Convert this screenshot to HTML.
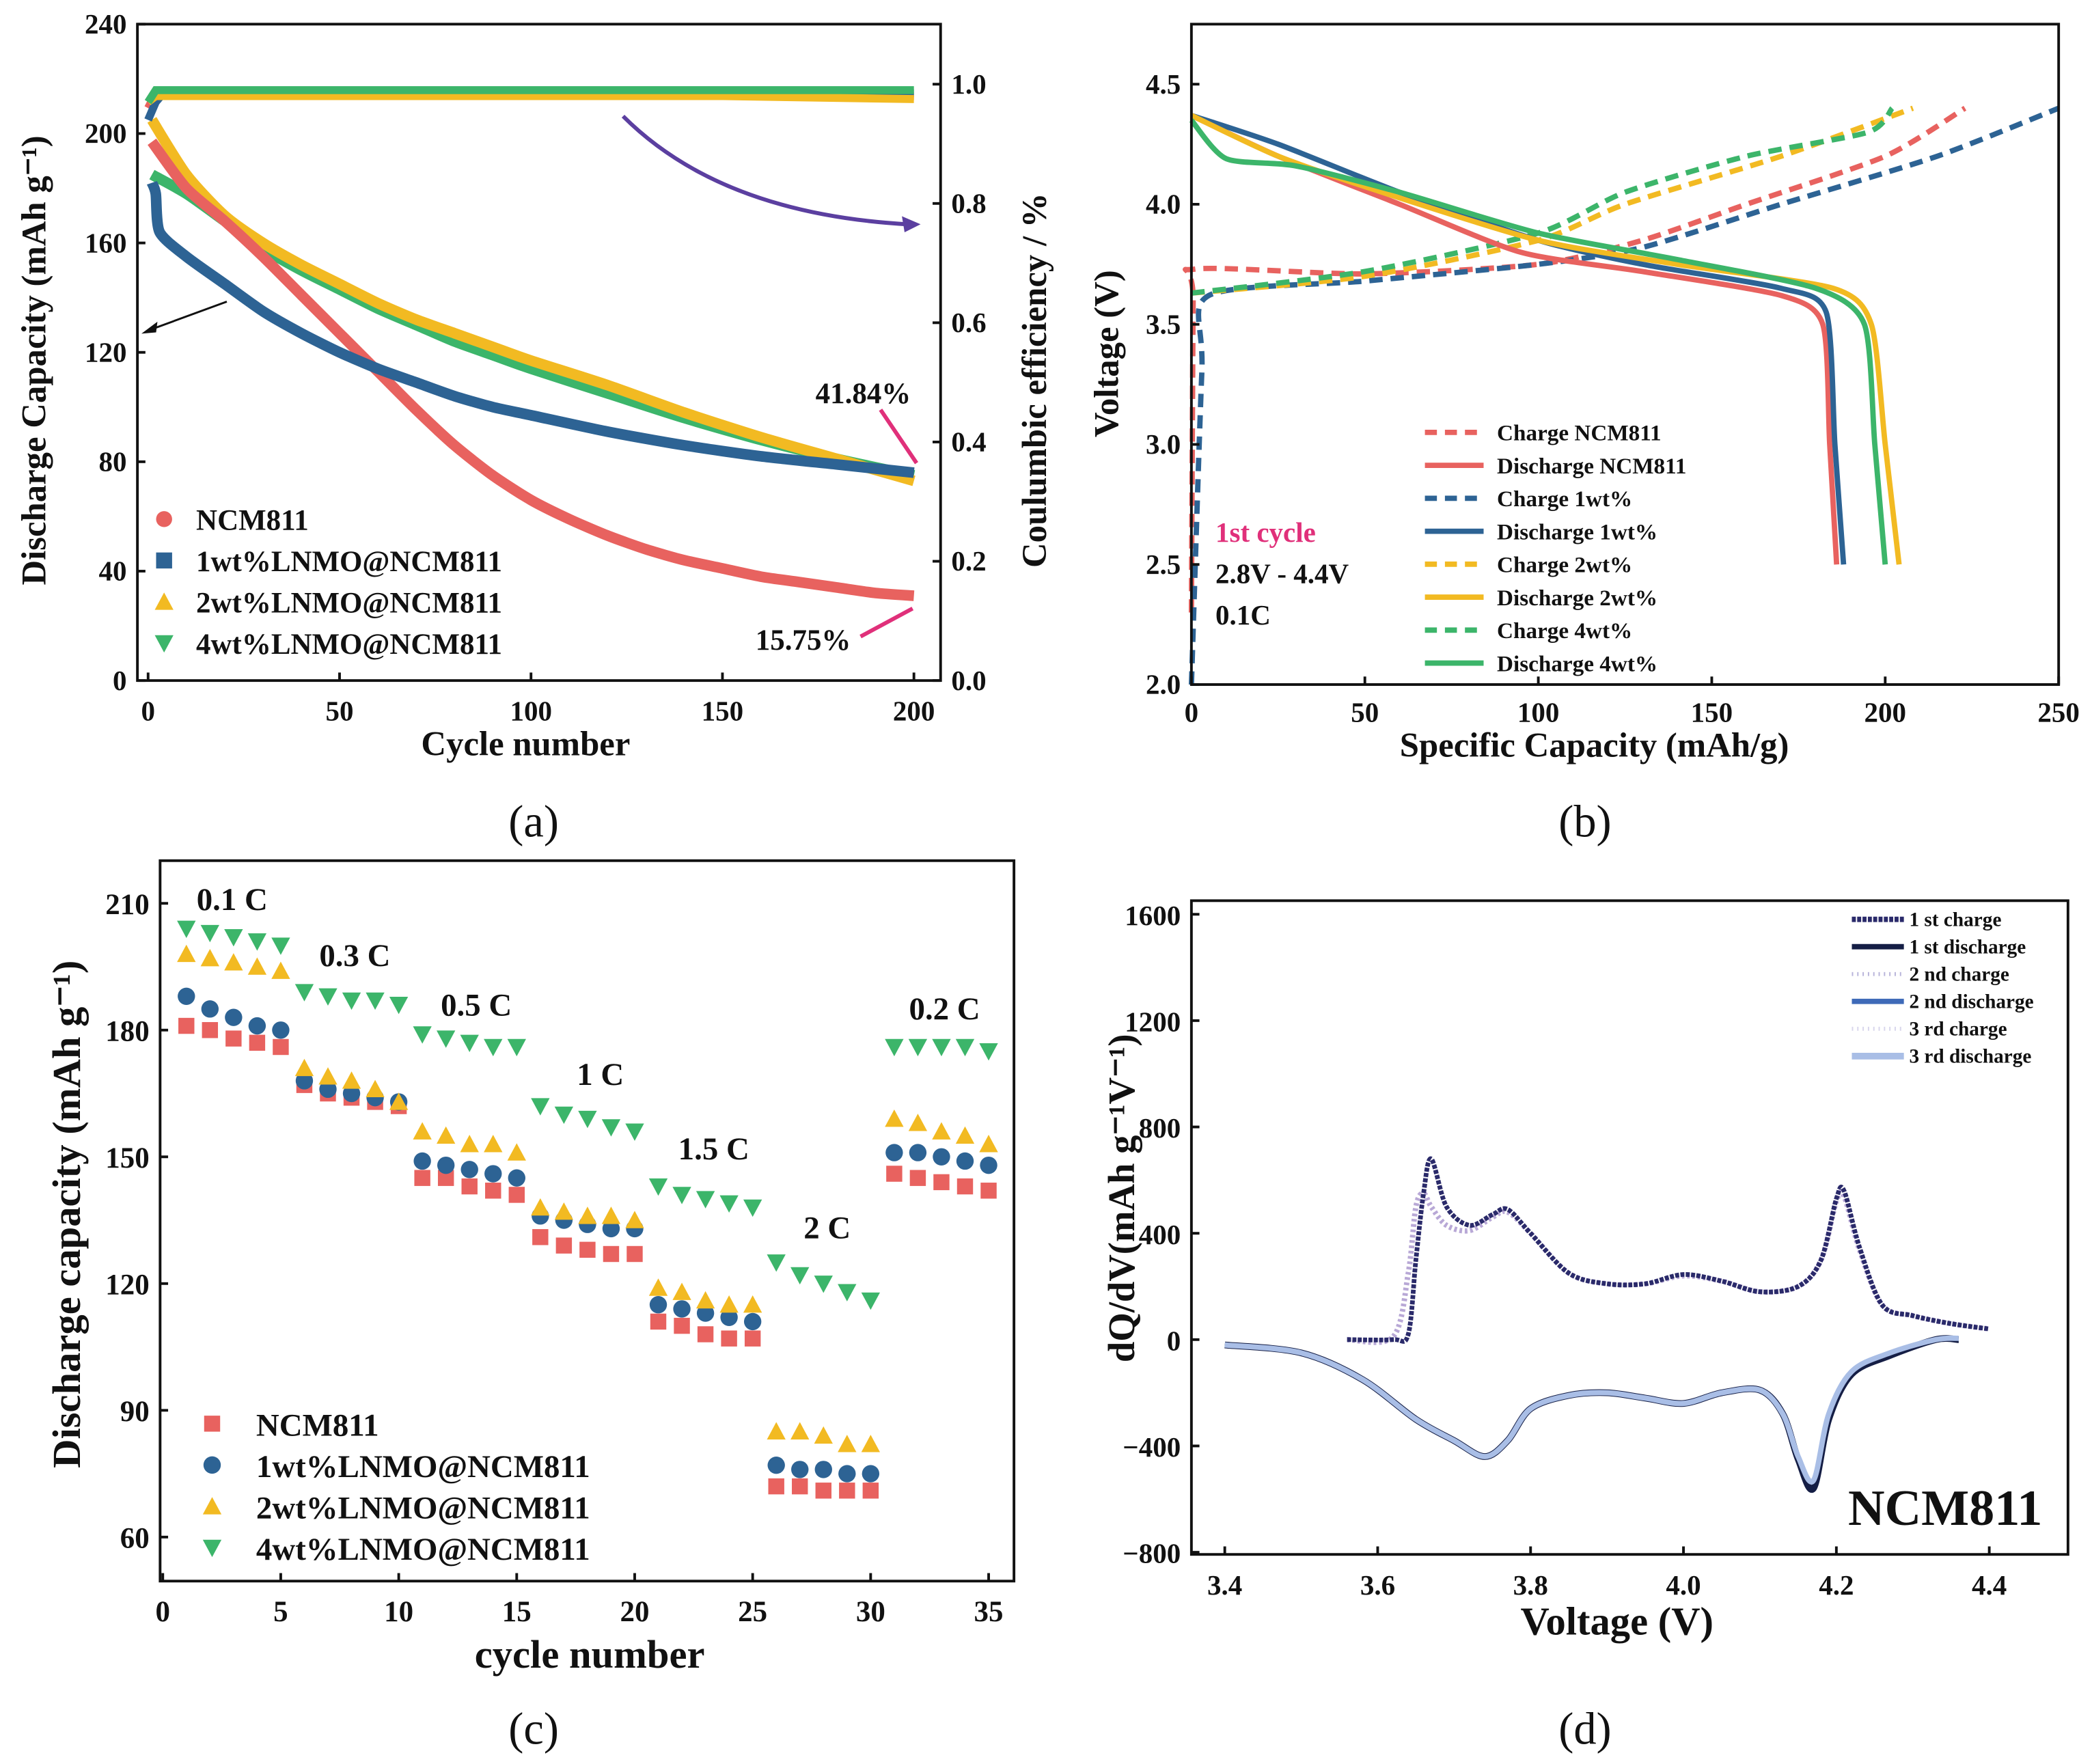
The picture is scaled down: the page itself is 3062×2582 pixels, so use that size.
<!DOCTYPE html>
<html><head><meta charset="utf-8"><style>
html,body{margin:0;padding:0;background:#fff;}
svg{display:block;font-family:"Liberation Serif",serif;font-weight:bold;}
</style></head><body>
<svg id="fig" width="3062" height="2582" viewBox="0 0 1568 1322" xmlns="http://www.w3.org/2000/svg">
</svg>
<script>
// ---------- Panel (a) data ----------
const aCycNCM = [1,10,20,30,40,50,60,70,80,90,100,110,120,130,140,150,160,170,180,190,200];
const aCapNCM = [197,180,168,155,141,127,113,99,86,75,66,59,53,48,44,41,38,36,34,32,31];
const aCyc1 = [1,2,3,10,20,30,40,50,60,70,80,90,100,120,140,160,180,200];
const aCap1 = [182,178,164,155,145,135,127,120,114,109,104,100,97,91,86,82,79,76];
const aCyc2 = [1,10,20,30,40,50,60,70,80,90,100,120,140,160,180,200];
const aCap2 = [205,185,170,160,152,145,138,132,127,122,117,108,98,89,81,73];
const aCyc4 = [1,10,20,30,40,50,60,70,80,90,100,120,140,160,180,200];
const aCap4 = [185,178,168,158,150,143,136,130,124,119,114,105,96,88,81,75];
const aCEcyc = [0,2,4,50,100,150,200];
const aCE1 = [0.94,0.97,0.985,0.985,0.985,0.985,0.985];
const aCE2 = [0.97,0.98,0.98,0.98,0.98,0.98,0.975];
const aCE4 = [0.97,0.99,0.99,0.99,0.99,0.99,0.99];
const aCENCM = [0.96,0.985,0.98,0.98,0.98,0.98,0.98];
const aXTicks = [0,50,100,150,200];
const aYTicks = [0,40,80,120,160,200,240];
const aY2Ticks = [0.0,0.2,0.4,0.6,0.8,1.0];

// ---------- Panel (b) data ----------
const bChgNCM_x = [0,0.5,1,50,100,130,160,200,223];
const bChgNCM_y = [2.3,3.6,3.73,3.71,3.75,3.85,4.0,4.2,4.4];
const bChg1_x = [0,3,5,50,100,130,170,215,250];
const bChg1_y = [2.0,3.3,3.62,3.68,3.75,3.82,4.0,4.2,4.4];
const bChg2_x = [0,50,100,125,170,208];
const bChg2_y = [3.63,3.7,3.85,4.0,4.2,4.4];
const bChg4_x = [0,50,100,125,160,195,202];
const bChg4_y = [3.63,3.72,3.88,4.05,4.2,4.3,4.4];
const bDisNCM_x = [0,25,60,95,130,170,182,184,186];
const bDisNCM_y = [4.37,4.2,4.0,3.8,3.72,3.62,3.5,3.0,2.5];
const bDis1_x = [0,25,60,100,130,170,183,185.5,188];
const bDis1_y = [4.37,4.25,4.05,3.85,3.75,3.65,3.55,3.0,2.5];
const bDis2_x = [0,25,55,100,140,185,196,200,204];
const bDis2_y = [4.37,4.2,4.05,3.85,3.75,3.65,3.5,3.0,2.5];
const bDis4_x = [0,10,30,60,100,140,180,194,197,200];
const bDis4_y = [4.35,4.19,4.16,4.05,3.88,3.77,3.65,3.5,3.0,2.5];
const bXTicks = [0,50,100,150,200,250];
const bYTicks = [2.0,2.5,3.0,3.5,4.0,4.5];

// ---------- Panel (c) data ----------
const cCycles = [1,2,3,4,5,6,7,8,9,10,11,12,13,14,15,16,17,18,19,20,21,22,23,24,25,26,27,28,29,30,31,32,33,34,35];
const cNCM = [181,180,178,177,176,167,165,164,163,162,145,145,143,142,141,131,129,128,127,127,111,110,108,107,107,72,72,71,71,71,146,145,144,143,142];
const c1wt = [188,185,183,181,180,168,166,165,164,163,149,148,147,146,145,136,135,134,133,133,115,114,113,112,111,77,76,76,75,75,151,151,150,149,148];
const c2wt = [198,197,196,195,194,171,169,168,166,163,156,155,153,153,151,138,137,136,136,135,119,118,116,115,115,85,85,84,82,82,159,158,156,155,153];
const c4wt = [204,203,202,201,200,189,188,187,187,186,179,178,177,176,176,162,160,159,157,156,143,141,140,139,138,125,122,120,118,116,176,176,176,176,175];
const cXTicks = [0,5,10,15,20,25,30,35];
const cYTicks = [60,90,120,150,180,210];

// ---------- Panel (d) data ----------
const dChgV = [3.56,3.62,3.64,3.65,3.66,3.67,3.69,3.72,3.75,3.77,3.8,3.85,3.9,3.95,4.0,4.05,4.1,4.15,4.18,4.2,4.21,4.23,4.26,4.3,4.35,4.4];
const dChg1 = [0,0,20,300,550,680,500,430,470,490,400,250,210,210,245,220,180,200,300,530,560,350,130,90,60,40];
const dChg2 = [0,10,250,500,550,500,430,410,460,480,400,250,210,210,240,220,180,200,300,520,540,340,130,90,60,40];
const dDisV = [3.4,3.5,3.58,3.65,3.7,3.74,3.77,3.8,3.85,3.9,3.95,4.0,4.05,4.1,4.13,4.15,4.17,4.19,4.22,4.27,4.33,4.36];
const dDis1 = [-20,-50,-150,-300,-380,-440,-380,-260,-210,-200,-220,-240,-200,-190,-280,-450,-560,-300,-130,-60,0,0];
const dDis3 = [-20,-50,-150,-300,-380,-440,-380,-260,-210,-200,-220,-240,-200,-190,-280,-440,-530,-280,-120,-50,0,5];
const dXTicks = [3.4,3.6,3.8,4.0,4.2,4.4];
const dYTicks = [-800,-400,0,400,800,1200,1600];

const NS = "http://www.w3.org/2000/svg";
const svg = document.getElementById('fig');
function mk(tag, attrs, parent){
  const e = document.createElementNS(NS, tag);
  for (const k in attrs) e.setAttribute(k, attrs[k]);
  (parent||svg).appendChild(e); return e;
}
function txt(x,y,s,size,anchor,parent,fill){
  const t = mk('text',{x:x,y:y,'font-size':size,'text-anchor':anchor||'middle',fill:fill||'#111'},parent);
  t.textContent = s; return t;
}
const RED='#E8625F', BLUE='#2D6394', YEL='#F2BA22', GRN='#3CB56A';
function pts(xs, ys, fx, fy){ return xs.map((v,i)=>fx(v)+','+fy(ys[i])).join(' '); }
function smooth(xs, ys, fx, fy, k){
  k = k===undefined?0.18:k;
  const P = xs.map((v,i)=>[fx(v),fy(ys[i])]);
  let d='M'+P[0][0]+','+P[0][1];
  for(let i=0;i<P.length-1;i++){
    const p0=P[Math.max(0,i-1)],p1=P[i],p2=P[i+1],p3=P[Math.min(P.length-1,i+2)];
    const c1=[p1[0]+(p2[0]-p0[0])*k,p1[1]+(p2[1]-p0[1])*k];
    const c2=[p2[0]-(p3[0]-p1[0])*k,p2[1]-(p3[1]-p1[1])*k];
    d+=' C'+c1[0]+','+c1[1]+' '+c2[0]+','+c2[1]+' '+p2[0]+','+p2[1];
  }
  return d;
}

// ================= Panel (a) =================
{
  const g = mk('g',{});
  
  
  const L=103,R=705,T=18,B=510;
  const fx = c => 111 + c*(685-111)/200;
  const fy = v => 510 - v*(510-18)/240;
  const fy2 = v => 510 - v*(510-63)/1.0;
  const series = [[aCyc4,aCap4,GRN,'capacity-4wt'],[aCyc2,aCap2,YEL,'capacity-2wt'],[aCycNCM,aCapNCM,RED,'capacity-ncm811'],[aCyc1,aCap1,BLUE,'capacity-1wt']];
  series.forEach(s=>{
    const p = mk('path',{d:smooth(s[0],s[1],fx,fy,0.12),fill:'none',stroke:s[2],'stroke-width':8,'stroke-linejoin':'round'},g);
    
    
  });
  const ce = [[aCENCM,RED,'ce-ncm811'],[aCE1,BLUE,'ce-1wt'],[aCE2,YEL,'ce-2wt'],[aCE4,GRN,'ce-4wt']];
  ce.forEach(s=>{
    const p = mk('polyline',{points:pts(aCEcyc,s[0],fx,fy2),fill:'none',stroke:s[1],'stroke-width':6},g);
    
    
  });
  mk('rect',{x:L,y:T,width:R-L,height:B-T,fill:'none',stroke:'#111','stroke-width':2},g);
  aXTicks.forEach(t=>{ mk('line',{x1:fx(t),x2:fx(t),y1:B,y2:B-6,stroke:'#111','stroke-width':2},g); txt(fx(t),B+30,t,21,'middle',g); });
  aYTicks.forEach(t=>{ mk('line',{x1:L,x2:L+6,y1:fy(t),y2:fy(t),stroke:'#111','stroke-width':2},g); txt(L-8,fy(t)+7,t,21,'end',g); });
  aY2Ticks.forEach(t=>{ mk('line',{x1:R,x2:R-6,y1:fy2(t),y2:fy2(t),stroke:'#111','stroke-width':2},g); txt(R+8,fy2(t)+7,t.toFixed(1),21,'start',g); });
  txt(394,566,'Cycle number',26,'middle',g);
  const yl = txt(0,0,'Discharge Capacity   (mAh g⁻¹)',26,'middle',g); yl.setAttribute('transform','translate(34,270) rotate(-90)');
  const yr = txt(0,0,'Coulumbic efficiency / %',26,'middle',g); yr.setAttribute('transform','translate(784,285) rotate(-90)');
  mk('path',{d:'M467,87 Q540,160 680,168',fill:'none',stroke:'#5B3FA0','stroke-width':3},g);
  mk('path',{d:'M690,168 L676,162 L678,174 Z',fill:'#5B3FA0'},g);
  mk('line',{x1:170,y1:226,x2:110,y2:248,stroke:'#111','stroke-width':1.5},g);
  mk('path',{d:'M106,250 L118,241 L117,249 Z',fill:'#111'},g);
  mk('line',{x1:660,y1:307,x2:687,y2:347,stroke:'#E0307A','stroke-width':3},g);
  mk('line',{x1:645,y1:477,x2:684,y2:456,stroke:'#E0307A','stroke-width':3},g);
  txt(647,302,'41.84%',22,'middle',g);
  txt(602,487,'15.75%',22,'middle',g);
  const leg=[['NCM811',RED,'c'],['1wt%LNMO@NCM811',BLUE,'s'],['2wt%LNMO@NCM811',YEL,'t'],['4wt%LNMO@NCM811',GRN,'v']];
  leg.forEach((l,i)=>{
    const y=389+i*31;
    if(l[2]=='c') mk('circle',{cx:123,cy:y,r:6,fill:l[1]},g);
    if(l[2]=='s') mk('rect',{x:117,y:y-6,width:12,height:12,fill:l[1]},g);
    if(l[2]=='t') mk('path',{d:`M116,${y+6} L130,${y+6} L123,${y-7} Z`,fill:l[1]},g);
    if(l[2]=='v') mk('path',{d:`M116,${y-6} L130,${y-6} L123,${y+7} Z`,fill:l[1]},g);
    const t=txt(147,y+8,l[0],22,'start',g);
    
    
  });
  txt(400,627,'(a)',34,'middle',g).setAttribute('font-weight','normal');
}

// ================= Panel (b) =================
{
  const g = mk('g',{});
  
  
  const L=893,R=1543,T=18,B=513;
  const fx = c => 893 + c*2.6;
  const fy = v => 513 - (v-2.0)*180;
  const curves=[[bChgNCM_x,bChgNCM_y,RED,1,'charge-ncm811'],[bChg1_x,bChg1_y,BLUE,1,'charge-1wt'],[bChg2_x,bChg2_y,YEL,1,'charge-2wt'],[bChg4_x,bChg4_y,GRN,1,'charge-4wt'],
    [bDisNCM_x,bDisNCM_y,RED,0,'discharge-ncm811'],[bDis1_x,bDis1_y,BLUE,0,'discharge-1wt'],[bDis2_x,bDis2_y,YEL,0,'discharge-2wt'],[bDis4_x,bDis4_y,GRN,0,'discharge-4wt']];
  curves.forEach(c=>{
    const a={d:smooth(c[0],c[1],fx,fy,0.12),fill:'none',stroke:c[2],'stroke-width':4,'stroke-linejoin':'round'};
    if(c[3]) a['stroke-dasharray']='10,6';
    const p=mk('path',a,g);
    
    
  });
  mk('rect',{x:L,y:T,width:R-L,height:B-T,fill:'none',stroke:'#111','stroke-width':2},g);
  bXTicks.forEach(t=>{ mk('line',{x1:fx(t),x2:fx(t),y1:B,y2:B-6,stroke:'#111','stroke-width':2},g); txt(fx(t),B+28,t,21,'middle',g); });
  bYTicks.forEach(t=>{ mk('line',{x1:L,x2:L+6,y1:fy(t),y2:fy(t),stroke:'#111','stroke-width':2},g); txt(L-8,fy(t)+7,t.toFixed(1),21,'end',g); });
  txt(1195,567,'Specific Capacity (mAh/g)',26,'middle',g);
  const yl=txt(0,0,'Voltage (V)',26,'middle',g); yl.setAttribute('transform','translate(838,265) rotate(-90)');
  const leg=[['Charge NCM811',RED,1],['Discharge NCM811',RED,0],['Charge 1wt%',BLUE,1],['Discharge 1wt%',BLUE,0],['Charge 2wt%',YEL,1],['Discharge 2wt%',YEL,0],['Charge 4wt%',GRN,1],['Discharge 4wt%',GRN,0]];
  leg.forEach((l,i)=>{
    const y=324+i*24.7;
    const a={x1:1068,x2:1112,y1:y,y2:y,stroke:l[1],'stroke-width':4};
    if(l[2]) a['stroke-dasharray']='9,6';
    mk('line',a,g);
    const t=txt(1122,y+6,l[0],17,'start',g);
    
    
  });
  txt(911,406,'1st cycle',21,'start',g,'#E0307A');
  txt(911,437,'2.8V - 4.4V',21,'start',g);
  txt(911,468,'0.1C',21,'start',g);
  txt(1188,627,'(b)',34,'middle',g).setAttribute('font-weight','normal');
}

// ================= Panel (c) =================
{
  const g = mk('g',{});
  
  
  const L=120,R=760,T=645,B=1185;
  const fx = c => 122 + c*(741-122)/35;
  const fy = v => 1152 - (v-60)*(1152-677)/150;
  const sers=[[cNCM,RED,'s','ncm811'],[c1wt,BLUE,'c','1wt'],[c2wt,YEL,'t','2wt'],[c4wt,GRN,'v','4wt']];
  function marker(type,x,y,col,par){
    let e;
    if(type=='s') e=mk('rect',{x:x-6,y:y-6,width:12,height:12,fill:col},par);
    if(type=='c') e=mk('circle',{cx:x,cy:y,r:6.5,fill:col},par);
    if(type=='t') e=mk('path',{d:`M${x-7},${y+6} L${x+7},${y+6} L${x},${y-7} Z`,fill:col},par);
    if(type=='v') e=mk('path',{d:`M${x-7},${y-6} L${x+7},${y-6} L${x},${y+7} Z`,fill:col},par);
    return e;
  }
  sers.forEach(s=>{
    s[0].forEach((v,i)=>{
      const m=marker(s[2],fx(cCycles[i]),fy(v),s[1],g);
      
      
    });
  });
  mk('rect',{x:L,y:T,width:R-L,height:B-T,fill:'none',stroke:'#111','stroke-width':2},g);
  cXTicks.forEach(t=>{ mk('line',{x1:fx(t),x2:fx(t),y1:B,y2:B-6,stroke:'#111','stroke-width':2},g); txt(fx(t),B+30,t,22,'middle',g); });
  cYTicks.forEach(t=>{ mk('line',{x1:L,x2:L+6,y1:fy(t),y2:fy(t),stroke:'#111','stroke-width':2},g); txt(L-8,fy(t)+8,t,22,'end',g); });
  txt(442,1250,'cycle number',30,'middle',g);
  const yl=txt(0,0,'Discharge capacity (mAh g⁻¹)',30,'middle',g); yl.setAttribute('transform','translate(60,910) rotate(-90)');
  [['0.1 C',174,682],['0.3 C',266,724],['0.5 C',357,761],['1 C',450,813],['1.5 C',535,869],['2 C',620,928],['0.2 C',708,764]].forEach(r=>txt(r[1],r[2],r[0],24,'middle',g));
  const leg=[['NCM811',RED,'s'],['1wt%LNMO@NCM811',BLUE,'c'],['2wt%LNMO@NCM811',YEL,'t'],['4wt%LNMO@NCM811',GRN,'v']];
  leg.forEach((l,i)=>{
    const y=1067+i*31;
    marker(l[2],159,y,l[1],g);
    const t=txt(192,y+9,l[0],24,'start',g);
    
    
  });
  txt(400,1307,'(c)',34,'middle',g).setAttribute('font-weight','normal');
}

// ================= Panel (d) =================
{
  const g = mk('g',{});
  
  
  const L=893,R=1550,T=675,B=1165;
  const fx = v => 918 + (v-3.4)*573;
  const fy = v => 1004 - v*79.7/400;
  const curves=[[dDisV,dDis1,'#151E45',5,null,'1st-discharge'],[dDisV,dDis3,'#A9BEE6',4,null,'3rd-discharge'],
    [dChgV,dChg2,'#B8A8D6',4,'2,2','2nd-charge'],[dChgV,dChg1,'#2A2A6A',3.5,'3,1','1st-charge']];
  curves.forEach(c=>{
    const a={d:smooth(c[0],c[1],fx,fy,0.16),fill:'none',stroke:c[2],'stroke-width':c[3],'stroke-linejoin':'round'};
    if(c[4]) a['stroke-dasharray']=c[4];
    const p=mk('path',a,g);
    
    
  });
  mk('rect',{x:L,y:T,width:R-L,height:B-T,fill:'none',stroke:'#111','stroke-width':2},g);
  dXTicks.forEach(t=>{ mk('line',{x1:fx(t),x2:fx(t),y1:B,y2:B-6,stroke:'#111','stroke-width':2},g); txt(fx(t),B+30,t.toFixed(1),21,'middle',g); });
  dYTicks.forEach(t=>{ mk('line',{x1:L,x2:L+6,y1:fy(t),y2:fy(t),stroke:'#111','stroke-width':2},g); txt(L-8,fy(t)+8,t<0?'−'+(-t):t,21,'end',g); });
  txt(1212,1225,'Voltage  (V)',30,'middle',g);
  const yl=txt(0,0,'dQ/dV(mAh g⁻¹V⁻¹)',28,'middle',g); yl.setAttribute('transform','translate(850,898) rotate(-90)');
  txt(1458,1143,'NCM811',38,'middle',g);
  const leg=[['1 st charge','#2A2A6A','3,1',4],['1 st discharge','#151E45',null,4],['2 nd charge','#B8B4DA','1,3',3],['2 nd discharge','#3E6AB8',null,4],['3 rd charge','#D8D6EC','1,3',3],['3 rd discharge','#A9BEE6',null,5]];
  leg.forEach((l,i)=>{
    const y=689+i*20.5;
    const a={x1:1388,x2:1427,y1:y,y2:y,stroke:l[1],'stroke-width':l[3]};
    if(l[2]) a['stroke-dasharray']=l[2];
    mk('line',a,g);
    const t=txt(1431,y+5,l[0],15,'start',g);
    
    
  });
  txt(1188,1307,'(d)',34,'middle',g).setAttribute('font-weight','normal');
}
</script>
</body></html>
